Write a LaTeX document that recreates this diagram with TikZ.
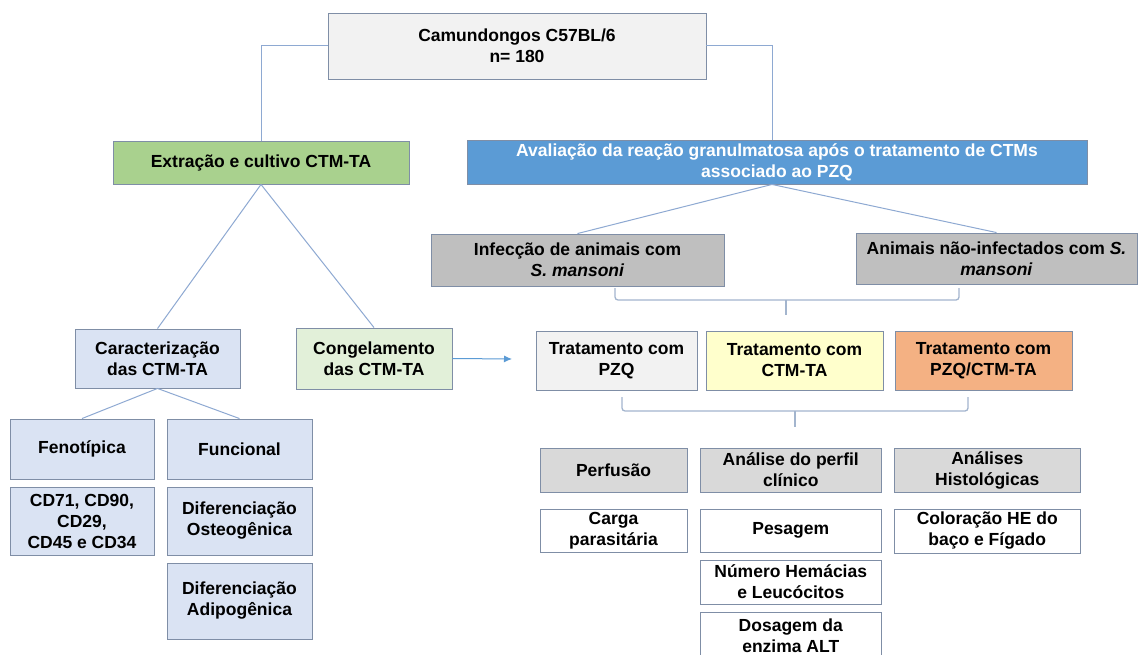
\documentclass[tikz,border=0pt]{standalone}
\usepackage{fontspec}
\setmainfont{Liberation Sans}
\usetikzlibrary{arrows.meta}
\definecolor{bordc}{HTML}{7F8EA6}
\definecolor{linec}{HTML}{8EA9D2}
\definecolor{bracec}{HTML}{A3B5CE}
\definecolor{arrc}{HTML}{5B9BD5}
\definecolor{cgraylt}{HTML}{F2F2F2}
\definecolor{cgreen}{HTML}{A9D18E}
\definecolor{cblue}{HTML}{5B9BD5}
\definecolor{cgray}{HTML}{BFBFBF}
\definecolor{cgraymid}{HTML}{D9D9D9}
\definecolor{cbluelt}{HTML}{DAE3F3}
\definecolor{cgreenlt}{HTML}{E2F0D9}
\definecolor{cyellow}{HTML}{FFFFCC}
\definecolor{corange}{HTML}{F4B183}
\tikzset{
  box/.style={draw=bordc, line width=0.9pt, align=center, inner sep=0pt, text=black,
    font=\fontsize{17.5}{21}\selectfont\bfseries},
  conn/.style={draw=linec, line width=1pt},
  bracel/.style={draw=bracec, line width=1.3pt, rounded corners=3pt},
}
\begin{document}
\begin{tikzpicture}[x=1pt,y=-1pt]
\clip (0,0) rectangle (1138,655);
\fill[white] (0,0) rectangle (1138,655);
% top
\node[box, fill=cgraylt, minimum width=378, minimum height=66] (top) at (517,46) {Camundongos C57BL/6\\n= 180};
\node[box, fill=cgreen, minimum width=296, minimum height=43] (green) at (261,162.5) {Extração e cultivo CTM-TA};
\node[box, fill=cblue, text=white, minimum width=620, minimum height=44] (blue) at (777,162) {Avaliação da reação granulmatosa após o tratamento de CTMs\\associado ao PZQ};
\node[box, fill=cgray, minimum width=293, minimum height=52] (inf) at (577.5,260) {Infecção de animais com\\\textit{S. mansoni}};
\node[box, fill=cgray, minimum width=281, minimum height=51] (ani) at (996.5,258.5) {Animais não-infectados com \textit{S.}\\\textit{mansoni}};
% left branch
\node[box, fill=cbluelt, minimum width=165, minimum height=59] (car) at (157.5,358.5) {Caracterização\\das CTM-TA};
\node[box, fill=cgreenlt, minimum width=156, minimum height=61] (con) at (374,358.5) {Congelamento\\das CTM-TA};
\node[box, fill=cbluelt, minimum width=144, minimum height=60] (fen) at (82,449) {Fenotípica};
\node[box, fill=cbluelt, minimum width=145, minimum height=60] (fun) at (239.5,449) {Funcional};
\node[box, fill=cbluelt, minimum width=144, minimum height=68] (cd) at (82,521) {CD71, CD90,\\CD29,\\CD45 e CD34};
\node[box, fill=cbluelt, minimum width=145, minimum height=68] (ost) at (239.5,521) {Diferenciação\\Osteogênica};
\node[box, fill=cbluelt, minimum width=145, minimum height=76] (adi) at (239.5,601) {Diferenciação\\Adipogênica};
% treatments
\node[box, fill=cgraylt, minimum width=161, minimum height=59] (t1) at (616.5,360.5) {Tratamento com\\PZQ};
\node[box, fill=cyellow, minimum width=177, minimum height=59] (t2) at (794.5,360.5) {Tratamento com\\CTM-TA};
\node[box, fill=corange, minimum width=177, minimum height=59] (t3) at (983.5,360.5) {Tratamento com\\PZQ/CTM-TA};
% analyses
\node[box, fill=cgraymid, minimum width=147, minimum height=44] (per) at (613.5,470) {Perfusão};
\node[box, fill=cgraymid, minimum width=180.5, minimum height=44] (ana) at (790.75,470) {Análise do perfil\\clínico};
\node[box, fill=cgraymid, minimum width=185.5, minimum height=44] (his) at (987.25,470) {Análises\\Histológicas};
\node[box, fill=white, minimum width=147, minimum height=43] (cga) at (613.5,530.5) {Carga\\parasitária};
\node[box, fill=white, minimum width=180.5, minimum height=43] (pes) at (790.75,530.5) {Pesagem};
\node[box, fill=white, minimum width=185.5, minimum height=44] (col) at (987.25,531) {Coloração HE do\\baço e Fígado};
\node[box, fill=white, minimum width=180.5, minimum height=44] (num) at (790.75,582) {Número Hemácias\\e Leucócitos};
\node[box, fill=white, minimum width=180.5, minimum height=48] (dos) at (790.75,636) {Dosagem da\\enzima ALT};
% connectors
\draw[conn] (top.west) -| (green.north);
\draw[conn] (top.east) -| ([xshift=-5pt]blue.north);
\draw[conn] (green.south) -- (car.north);
\draw[conn] (green.south) -- (con.north);
\draw[conn] ([xshift=-5pt]blue.south) -- (inf.north);
\draw[conn] ([xshift=-5pt]blue.south) -- (ani.north);
\draw[conn] (car.south) -- (fen.north);
\draw[conn] (car.south) -- (fun.north);
\coordinate (arrend) at (512,359);
\draw[draw=arrc, line width=1pt, -{Latex[length=8pt,width=7pt]}] (con.east) -- (arrend);
% braces
\coordinate (b1l) at (615,288);
\coordinate (b1m) at (786,300);
\coordinate (b1r) at (959,288);
\coordinate (b1t) at (786,315);
\draw[bracel] (b1l) |- (b1m) -| (b1r);
\draw[draw=bracec, line width=1.3pt] (b1m) -- (b1t);
\coordinate (b2l) at (622,397);
\coordinate (b2m) at (795,411);
\coordinate (b2r) at (968,397);
\coordinate (b2t) at (795,427);
\draw[bracel] (b2l) |- (b2m) -| (b2r);
\draw[draw=bracec, line width=1.3pt] (b2m) -- (b2t);
\end{tikzpicture}
\end{document}
